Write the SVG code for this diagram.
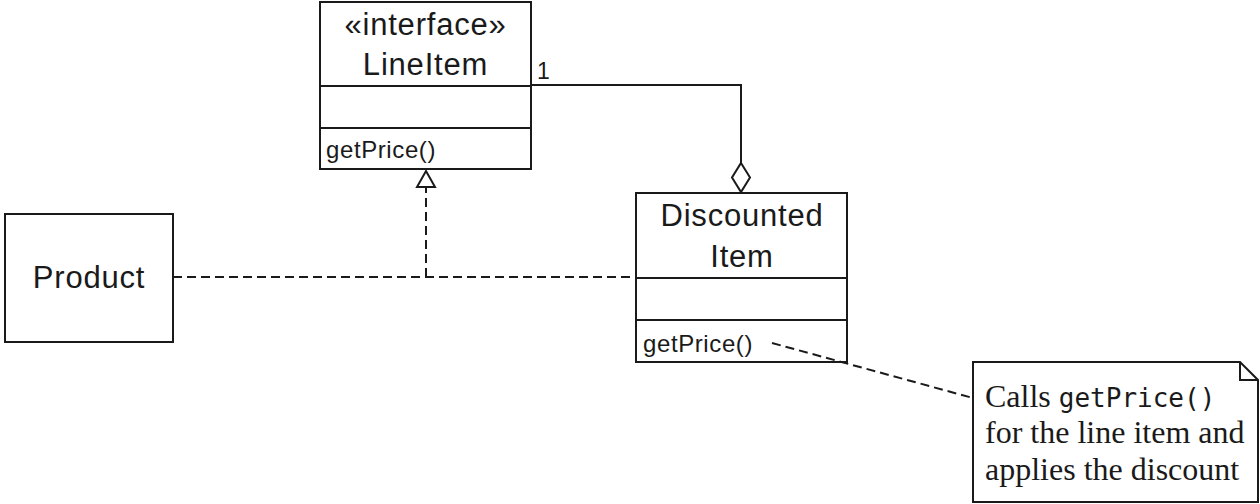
<svg xmlns="http://www.w3.org/2000/svg" width="1260" height="504" viewBox="0 0 1260 504">
  <style>
    .box { fill: #ffffff; stroke: #1a1a1a; stroke-width: 2; }
    .line { fill: none; stroke: #1a1a1a; stroke-width: 2; }
    .dash { fill: none; stroke: #1a1a1a; stroke-width: 2; stroke-dasharray: 9 5; }
    .name { font-family: "Liberation Sans", Arial, sans-serif; font-size: 31px; letter-spacing: 0.8px; fill: #1a1a1a; text-anchor: middle; }
    .op { font-family: "Liberation Sans", Arial, sans-serif; font-size: 24px; letter-spacing: 0.6px; fill: #1a1a1a; }
    .mult { font-family: "Liberation Sans", Arial, sans-serif; font-size: 23px; fill: #1a1a1a; }
    .note { font-family: "Liberation Serif", "Times New Roman", serif; font-size: 32px; fill: #1a1a1a; }
    .code { font-family: "DejaVu Sans Mono", "Liberation Mono", monospace; font-size: 26px; }
  </style>

  <rect width="1260" height="504" fill="#ffffff"/>

  <!-- LineItem interface -->
  <g id="lineitem">
    <rect class="box" x="320" y="2" width="211" height="167"/>
    <line class="line" x1="320" y1="86" x2="531" y2="86"/>
    <line class="line" x1="320" y1="128" x2="531" y2="128"/>
    <text class="name" x="425.5" y="35">«interface»</text>
    <text class="name" x="425.5" y="75">LineItem</text>
    <text class="op" x="326" y="158">getPrice()</text>
  </g>

  <!-- Product -->
  <g id="product">
    <rect class="box" x="5" y="214" width="168" height="128"/>
    <text class="name" x="89" y="288">Product</text>
  </g>

  <!-- DiscountedItem -->
  <g id="discounteditem">
    <rect class="box" x="636" y="193" width="211" height="169"/>
    <line class="line" x1="636" y1="278" x2="847" y2="278"/>
    <line class="line" x1="636" y1="320" x2="847" y2="320"/>
    <text class="name" x="742" y="226">Discounted</text>
    <text class="name" x="742" y="267">Item</text>
    <text class="op" x="643" y="352">getPrice()</text>
  </g>

  <!-- note -->
  <g id="note">
    <polygon class="box" points="973,362 1240,362 1258,380 1258,502 973,502"/>
    <polyline class="line" points="1240,362 1240,380 1258,380"/>
    <text class="note" x="985" y="407">Calls <tspan class="code">getPrice()</tspan></text>
    <text class="note" x="985" y="443">for the line item and</text>
    <text class="note" x="985" y="480">applies the discount</text>
  </g>

  <!-- connectors -->
  <g id="connectors">
    <!-- aggregation: DiscountedItem holds one LineItem -->
    <polyline class="line" points="531,85 741,85 741,163"/>
    <polygon class="box" points="741,163 750,177.5 741,192 732,177.5"/>
    <text class="mult" x="537" y="79">1</text>
    <!-- realization of LineItem by Product and DiscountedItem -->
    <line class="dash" x1="173" y1="277" x2="636" y2="277"/>
    <line class="dash" x1="426" y1="277" x2="426" y2="187"/>
    <polygon class="box" points="426,171 435,187 417,187"/>
    <!-- note anchor -->
    <line class="dash" x1="772" y1="343" x2="973" y2="398"/>
  </g>
</svg>
